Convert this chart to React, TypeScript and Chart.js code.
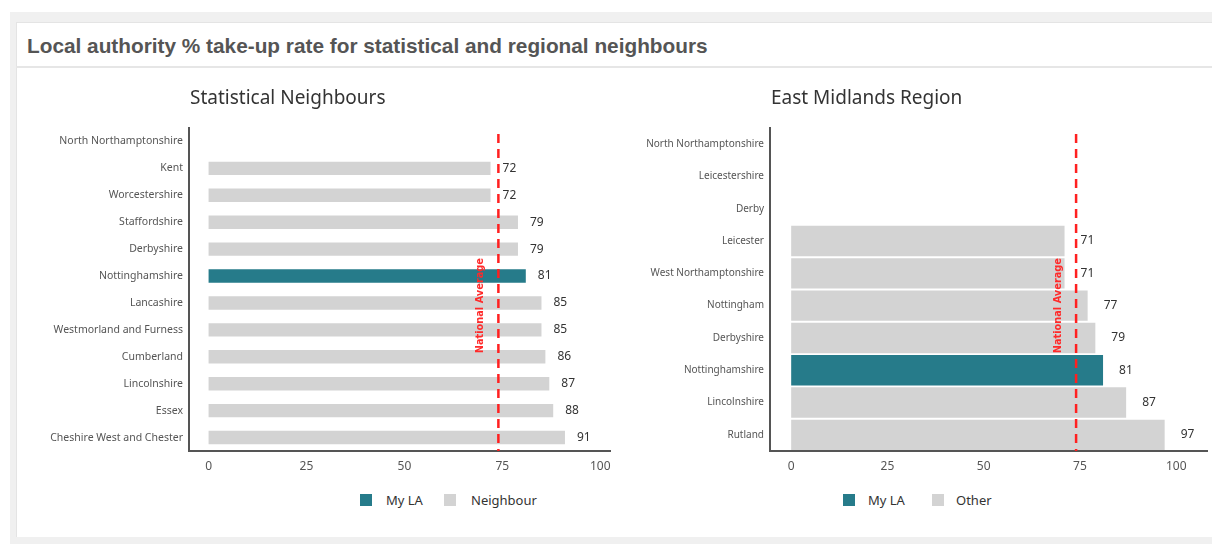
import { useEffect, useRef } from "react"
import { Chart, registerables } from "chart.js"

Chart.register(...registerables)

const NATIONAL_AVERAGE = 74
const MY_LA = "Nottinghamshire"
const MY_LA_COLOR = "#267b8a"
const OTHER_COLOR = "#d3d3d3"

const statCategories = [
  "North Northamptonshire",
  "Kent",
  "Worcestershire",
  "Staffordshire",
  "Derbyshire",
  "Nottinghamshire",
  "Lancashire",
  "Westmorland and Furness",
  "Cumberland",
  "Lincolnshire",
  "Essex",
  "Cheshire West and Chester",
]
const statValues = [null, 72, 72, 79, 79, 81, 85, 85, 86, 87, 88, 91]

const regionCategories = [
  "North Northamptonshire",
  "Leicestershire",
  "Derby",
  "Leicester",
  "West Northamptonshire",
  "Nottingham",
  "Derbyshire",
  "Nottinghamshire",
  "Lincolnshire",
  "Rutland",
]
const regionValues = [null, null, null, 71, 71, 77, 79, 81, 87, 97]

const xTicks = [0, 25, 50, 75, 100]

// value labels, national average line and panel title
const extrasPlugin = {
  id: "extras",
  afterDatasetsDraw(chart: any, _args: any, opts: any) {
    const { ctx, chartArea, scales } = chart
    const meta = chart.getDatasetMeta(0)
    const values = chart.data.datasets[0].data

    ctx.save()
    ctx.font = "12px 'Noto Sans'"
    ctx.fillStyle = "#333"
    ctx.textBaseline = "middle"
    ctx.textAlign = "left"
    meta.data.forEach((bar: any, i: number) => {
      if (values[i] == null) return
      ctx.fillText(String(values[i]), bar.x + opts.labelGap, bar.y)
    })

    const x = scales.x.getPixelForValue(opts.average)
    ctx.strokeStyle = "#ff2020"
    ctx.lineWidth = 2.5
    ctx.setLineDash([9, 6])
    ctx.beginPath()
    ctx.moveTo(x, chartArea.top + 6)
    ctx.lineTo(x, chartArea.bottom)
    ctx.stroke()
    ctx.setLineDash([])

    ctx.translate(x - 18, chartArea.top + chartArea.height * 0.55)
    ctx.rotate(-Math.PI / 2)
    ctx.font = "bold 9.8px 'DejaVu Sans'"
    ctx.textAlign = "center"
    ctx.fillStyle = "#ff2a2a"
    ctx.fillText("National Average", 0, 0)
    ctx.restore()

    ctx.save()
    ctx.font = "19px 'Noto Sans'"
    ctx.fillStyle = "#333"
    ctx.textAlign = "left"
    ctx.textBaseline = "middle"
    ctx.fillText(opts.title, chartArea.left + 1, chartArea.top - 29)
    ctx.restore()
  },
}

interface PanelProps {
  title: string
  categories: string[]
  values: (number | null)[]
  left: number
  width: number
  axisWidth: number
  xMin: number
  xMax: number
  barPercentage: number
  labelGap: number
  tickSize: number
}

function BarPanel({ title, categories, values, left, width, axisWidth, xMin, xMax, barPercentage, labelGap, tickSize }: PanelProps) {
  const chartRef = useRef<HTMLCanvasElement>(null)
  const chartInstance = useRef<Chart | null>(null)

  useEffect(() => {
    if (!chartRef.current) return
    if (chartInstance.current) chartInstance.current.destroy()

    chartInstance.current = new Chart(chartRef.current, {
      type: "bar",
      data: {
        labels: categories,
        datasets: [
          {
            data: values as any,
            backgroundColor: categories.map((c) => (c === MY_LA ? MY_LA_COLOR : OTHER_COLOR)),
            barPercentage,
            categoryPercentage: 1,
          },
        ],
      },
      options: {
        indexAxis: "y",
        responsive: false,
        animation: false,
        layout: { padding: { top: 56, right: 5, bottom: 0, left: 0 } },
        plugins: {
          legend: { display: false },
          tooltip: { enabled: false },
          extras: { title, average: NATIONAL_AVERAGE, labelGap },
        } as any,
        scales: {
          x: {
            min: xMin,
            max: xMax,
            grid: { display: false, drawTicks: false },
            border: { display: true, color: "#555", width: 2 },
            afterBuildTicks: (axis: any) => {
              axis.ticks = xTicks.map((value) => ({ value }))
            },
            afterFit: (axis: any) => {
              axis.height = 30
              axis.paddingLeft = 0
              axis.paddingRight = 0
            },
            ticks: { color: "#555", font: { family: "Noto Sans", size: 12 }, padding: 8 },
          },
          y: {
            grid: { display: false, drawTicks: false },
            border: { display: true, color: "#555", width: 2 },
            afterFit: (axis: any) => {
              axis.width = axisWidth
              axis.paddingTop = 0
              axis.paddingBottom = 0
            },
            ticks: { autoSkip: false, color: "#555", font: { family: "Noto Sans", size: tickSize }, padding: 6 },
          },
        },
      },
      plugins: [extrasPlugin],
    })

    return () => {
      if (chartInstance.current) {
        chartInstance.current.destroy()
        chartInstance.current = null
      }
    }
  }, [])

  return (
    <canvas
      ref={chartRef}
      width={width}
      height={409}
      style={{ position: "absolute", left, top: 72, width, height: 409 }}
    ></canvas>
  )
}

function LegendItem({ left, textLeft, color, label }: { left: number; textLeft: number; color: string; label: string }) {
  return (
    <>
      <div style={{ position: "absolute", left, top: 494, width: 12, height: 12, background: color }} />
      <div
        style={{
          position: "absolute",
          left: textLeft,
          top: 491,
          lineHeight: "18px",
          fontSize: 13,
          fontFamily: "'Noto Sans', sans-serif",
          color: "#333",
        }}
      >
        {label}
      </div>
    </>
  )
}

export default function App() {
  return (
    <div style={{ position: "absolute", left: 0, top: 0, width: 1212, height: 544, background: "#fff", overflow: "hidden" }}>
      <div style={{ position: "absolute", left: 10, top: 12, width: 1202, height: 532, background: "#f0f0f0" }} />
      <div
        style={{
          position: "absolute",
          left: 16,
          top: 22,
          width: 1196,
          height: 515,
          background: "#fff",
          borderTop: "1px solid #e4e4e4",
          borderLeft: "1px solid #e4e4e4",
          boxSizing: "border-box",
        }}
      />
      <div
        style={{
          position: "absolute",
          left: 27,
          top: 33,
          lineHeight: "26px",
          fontSize: 20.8,
          fontWeight: "bold",
          fontFamily: "'Liberation Sans', Arial, sans-serif",
          color: "#555",
          whiteSpace: "nowrap",
        }}
      >
        Local authority % take-up rate for statistical and regional neighbours
      </div>
      <div style={{ position: "absolute", left: 16, top: 66, width: 1196, height: 2, background: "#e6e6e6" }} />

      <BarPanel
        title="Statistical Neighbours"
        categories={statCategories}
        values={statValues}
        left={20}
        width={595}
        axisWidth={169}
        xMin={-5}
        xMax={102.5}
        barPercentage={0.5}
        labelGap={12}
        tickSize={10.5}
      />
      <BarPanel
        title="East Midlands Region"
        categories={regionCategories}
        values={regionValues}
        left={620}
        width={592}
        axisWidth={150}
        xMin={-5.5}
        xMax={108}
        barPercentage={0.94}
        labelGap={16}
        tickSize={10}
      />

      <LegendItem left={360} textLeft={386} color={MY_LA_COLOR} label="My LA" />
      <LegendItem left={444} textLeft={471} color={OTHER_COLOR} label="Neighbour" />
      <LegendItem left={843} textLeft={868} color={MY_LA_COLOR} label="My LA" />
      <LegendItem left={932} textLeft={956} color={OTHER_COLOR} label="Other" />
    </div>
  )
}
